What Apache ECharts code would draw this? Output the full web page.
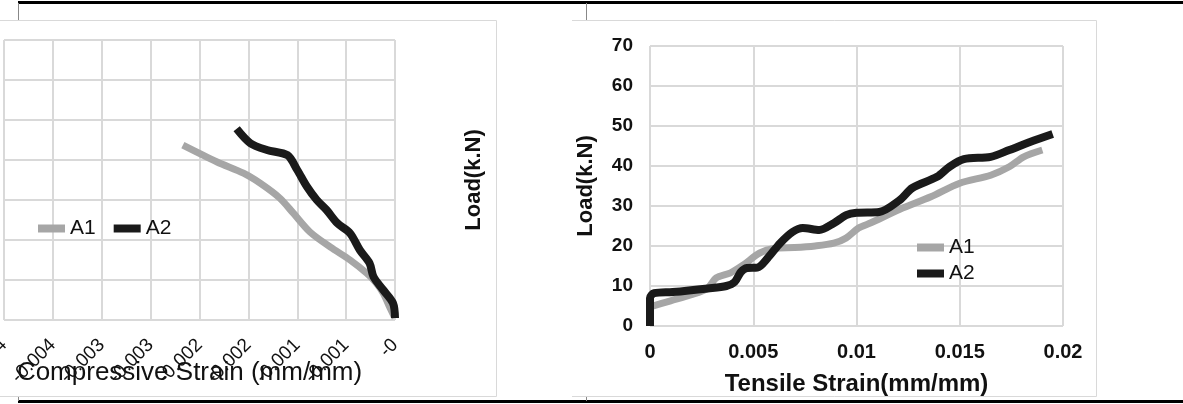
<!DOCTYPE html>
<html>
<head>
<meta charset="utf-8">
<script src="https://cdn.jsdelivr.net/npm/echarts@6/dist/echarts.min.js"></script>
<style>
  html, body { margin: 0; padding: 0; background: #fff; }
  #main { width: 1183px; height: 404px; }
</style>
</head>
<body>
<div id="main"></div>
<script>
// 压缩应变 (左图) [strain, load]
var compA1 = [[0, 0.5], [-0.00005, 3], [-0.00012, 6.7], [-0.0002, 9.5], [-0.00029, 11.7], [-0.00046, 15],
  [-0.00066, 18.2], [-0.00087, 22], [-0.00104, 26.7], [-0.00118, 30.5], [-0.00138, 34.2],
  [-0.00155, 36.7], [-0.00182, 39.5], [-0.00217, 43.7]];
var compA2 = [[0, 0.5], [-0.00002, 4.2], [-0.00012, 7.5], [-0.00022, 10.8], [-0.00026, 14.2], [-0.00036, 17.5],
  [-0.00046, 21.7], [-0.00059, 24.2], [-0.0007, 27.5], [-0.0008, 30], [-0.0009, 33.3], [-0.001, 37.5],
  [-0.0011, 41.2], [-0.00131, 42.5], [-0.00148, 44.2], [-0.00162, 47.8]];
// 拉伸应变 (右图)
var tensA1 = [[0, 4.8], [0.001, 6.3], [0.002, 7.8], [0.0028, 9.5], [0.0032, 12], [0.0039, 13.3], [0.0045, 15.2],
  [0.0053, 18.2], [0.006, 19.4], [0.007, 19.6], [0.008, 20], [0.0089, 20.7], [0.0095, 22], [0.0101, 24.5],
  [0.0107, 25.8], [0.0121, 29.2], [0.0136, 32.3], [0.015, 35.7], [0.0165, 37.7], [0.0174, 39.8],
  [0.0181, 42.3], [0.019, 44]];
var tensA2 = [[0, 0], [0, 7], [0.0002, 8.2], [0.0011, 8.5], [0.0028, 9.4], [0.0037, 10], [0.0041, 11],
  [0.0044, 13.5], [0.0047, 14.5], [0.0052, 14.6], [0.0057, 17], [0.0063, 20.7], [0.0069, 23.5],
  [0.0074, 24.5], [0.0082, 24], [0.0089, 25.7], [0.0095, 27.7], [0.01, 28.3], [0.0111, 28.5],
  [0.0121, 31.5], [0.0127, 34.5], [0.0139, 37.3], [0.0145, 39.8], [0.0152, 41.7], [0.0165, 42.3],
  [0.0174, 44], [0.0184, 46], [0.0195, 48]];
var seriesNames = ['A1', 'A2'];

var chart = echarts.init(document.getElementById('main'));
var gridColor = '#d9d9d9';
var FONT = 'Liberation Sans, Arial, sans-serif';

// 左图刻度: 保留三位小数, 0 显示为 -0
function compLabel(v) {
  if (Math.abs(v) < 1e-12) return '-0';
  var n = Math.round(Math.abs(v) * 1000 + 1e-9);
  return '-' + (n / 1000).toString();
}

function lineSeries(name, data, xi, color, width) {
  return {
    name: name,
    type: 'line',
    xAxisIndex: xi,
    yAxisIndex: xi,
    data: data,
    smooth: 0.3,
    showSymbol: false,
    clip: false,
    lineStyle: { color: color, width: width },
    itemStyle: { color: color }
  };
}

var option = {
  animation: false,
  textStyle: { fontFamily: FONT },
  grid: [
    { left: 4, right: 788, top: 40, bottom: 84, outerBoundsMode: 'none', containLabel: false },
    { left: 650, right: 120, top: 46, bottom: 78, outerBoundsMode: 'none', containLabel: false }
  ],
  legend: [
    {
      data: seriesNames, left: 38, top: 218, orient: 'horizontal', padding: 0,
      icon: 'rect', itemWidth: 27, itemHeight: 8, itemGap: 18,
      textStyle: { fontSize: 21, color: '#111', fontFamily: FONT }
    },
    {
      data: seriesNames, left: 917, top: 237, orient: 'vertical', padding: 0,
      icon: 'rect', itemWidth: 27, itemHeight: 8, itemGap: 5,
      textStyle: { fontSize: 21, color: '#111', fontFamily: FONT }
    }
  ],
  xAxis: [
    {
      type: 'value', gridIndex: 0, min: -0.004, max: 0, interval: 0.0005,
      name: 'Compressive Strain (mm/mm)', nameLocation: 'middle', nameGap: 40, nameMoveOverlap: false,
      nameTextStyle: { fontSize: 26, color: '#111', padding: [0, 20, 0, 0] },
      axisLine: { show: false }, axisTick: { show: false },
      axisLabel: { rotate: 45, fontSize: 19, color: '#111', margin: 22, formatter: compLabel },
      splitLine: { show: true, lineStyle: { color: gridColor, width: 2 } }
    },
    {
      type: 'value', gridIndex: 1, min: 0, max: 0.02, interval: 0.005,
      name: 'Tensile Strain(mm/mm)', nameLocation: 'middle', nameGap: 46, nameMoveOverlap: false,
      nameTextStyle: { fontSize: 24, fontWeight: 'bold', color: '#111' },
      axisLine: { show: false }, axisTick: { show: false },
      axisLabel: { fontSize: 20, fontWeight: 'bold', color: '#111', margin: 16 },
      splitLine: { show: true, lineStyle: { color: gridColor, width: 2 } }
    }
  ],
  yAxis: [
    {
      type: 'value', gridIndex: 0, min: 0, max: 70, interval: 10, position: 'right',
      name: 'Load(k.N)', nameLocation: 'middle', nameGap: 68, nameRotate: 90, nameMoveOverlap: false,
      nameTextStyle: { fontSize: 22, fontWeight: 'bold', color: '#111' },
      axisLine: { show: false }, axisTick: { show: false },
      axisLabel: { show: false },
      splitLine: { show: true, lineStyle: { color: gridColor, width: 2 } }
    },
    {
      type: 'value', gridIndex: 1, min: 0, max: 70, interval: 10,
      name: 'Load(k.N)', nameLocation: 'middle', nameGap: 53, nameRotate: 90, nameMoveOverlap: false,
      nameTextStyle: { fontSize: 22, fontWeight: 'bold', color: '#111' },
      axisLine: { show: false }, axisTick: { show: false },
      axisLabel: { fontSize: 19, fontWeight: 'bold', color: '#111', margin: 17 },
      splitLine: { show: true, lineStyle: { color: gridColor, width: 2 } }
    }
  ],
  series: [
    lineSeries('A1', compA1, 0, '#a6a6a6', 7),
    lineSeries('A2', compA2, 0, '#1a1a1a', 8),
    lineSeries('A1', tensA1, 1, '#a6a6a6', 7),
    lineSeries('A2', tensA2, 1, '#1a1a1a', 8)
  ],
  graphic: [
    // 图表边框
    { type: 'polyline', silent: true, shape: { points: [[0, 20.5], [496.5, 20.5], [496.5, 396.5], [0, 396.5]] },
      style: { fill: null, stroke: gridColor, lineWidth: 1 } },
    { type: 'polyline', silent: true, shape: { points: [[572, 20.5], [1096.5, 20.5], [1096.5, 396.5], [572, 396.5]] },
      style: { fill: null, stroke: gridColor, lineWidth: 1 } },
    // 表格线
    { type: 'line', silent: true, shape: { x1: 18, y1: 2.5, x2: 1183, y2: 2.5 }, style: { stroke: '#000', lineWidth: 3 } },
    { type: 'line', silent: true, shape: { x1: 18, y1: 401.5, x2: 1183, y2: 401.5 }, style: { stroke: '#000', lineWidth: 3 } },
    { type: 'line', silent: true, shape: { x1: 18.5, y1: 3, x2: 18.5, y2: 20 }, style: { stroke: '#888', lineWidth: 1 } },
    { type: 'line', silent: true, shape: { x1: 586.5, y1: 3, x2: 586.5, y2: 20 }, style: { stroke: '#888', lineWidth: 1 } },
    { type: 'line', silent: true, shape: { x1: 18.5, y1: 397, x2: 18.5, y2: 401 }, style: { stroke: '#888', lineWidth: 1 } },
    { type: 'line', silent: true, shape: { x1: 586.5, y1: 397, x2: 586.5, y2: 401 }, style: { stroke: '#888', lineWidth: 1 } }
  ]
};
chart.setOption(option);
</script>
</body>
</html>
